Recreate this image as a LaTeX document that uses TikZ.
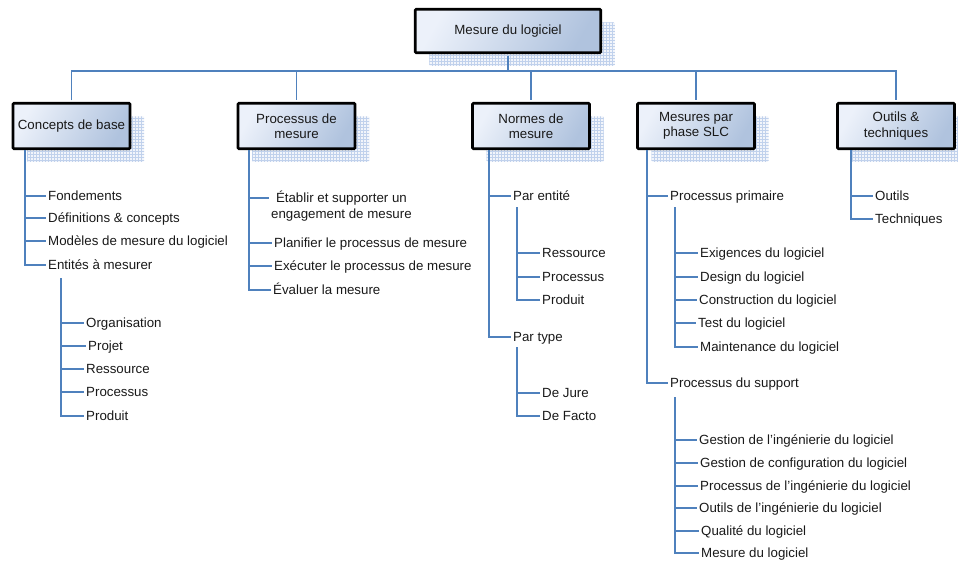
\documentclass[tikz,border=0pt]{standalone}
\usepackage{fontspec}
\setmainfont{Liberation Sans}
\usetikzlibrary{shadows,patterns,calc}
\definecolor{MesBlue}{RGB}{79,129,189}
\definecolor{MesLight}{RGB}{236,241,250}
\definecolor{MesDark}{RGB}{176,195,222}
\definecolor{MesHatch}{RGB}{165,190,228}
\definecolor{MesText}{RGB}{25,25,25}

\begin{document}
\begin{tikzpicture}[x=1pt, y=-1pt,
    font=\fontsize{13.3}{15.5}\selectfont, text=MesText,
    topic/.style={draw=black, line width=2.8pt, rounded corners=1pt, top color=MesLight, bottom color=MesDark, shading angle=60, minimum width=117pt, minimum height=45.5pt, align=center, inner sep=2pt,
      drop shadow={shadow xshift=14pt, shadow yshift=-13pt, opacity=1, fill=MesHatch!15, postaction={pattern=grid, pattern color=MesHatch!70}}},
    item/.style={anchor=west, inner sep=2pt, text height=10.5pt, text depth=2pt},
    link/.style={draw=MesBlue, line width=1.7pt}
  ]
    \useasboundingbox (0,0) rectangle (958,562);
    % boxes
    \node[topic, minimum width=185.5pt, minimum height=43.5pt] (mes) at (508,31) {Mesure du logiciel};
    \node[topic] (cb) at (71.5,126) {Concepts de base};
    \node[topic] (pm) at (296.5,126) {Processus de\\mesure};
    \node[topic] (nm) at (531,126) {Normes de\\mesure};
    \node[topic] (slc) at (696,126) {Mesures par\\phase SLC};
    \node[topic] (ot) at (896,126) {Outils \&\\techniques};
    \coordinate (bus) at (0,71);
    \draw[link, shorten <=1.4pt] (mes.south) -- (mes.south |- bus);
    \draw[link, shorten <=1.4pt, shorten >=1.4pt] (cb.north) -- (cb.north |- bus) -- (ot.north |- bus) -- (ot.north);
    \foreach \b in {pm,nm,slc}
      \draw[link, shorten >=1.4pt] (\b.north |- bus) -- (\b.north);

    % Concepts de base
    \coordinate (cbs) at (25,150);
    \node[item] (fond) at (46,196) {Fondements};
    \node[item] (defs) at (46,218) {Définitions \& concepts};
    \node[item] (modl) at (46,241) {Modèles de mesure du logiciel};
    \node[item] (enti) at (46,265) {Entités à mesurer};
    \foreach \n in {fond,defs,modl,enti}
      \draw[link] (cbs) |- (\n.west);
    \coordinate (ents) at (61,278);
    \node[item] (orga) at (84,323) {Organisation};
    \node[item] (proj) at (86,346) {Projet};
    \node[item] (res1) at (84,369) {Ressource};
    \node[item] (pro1) at (84,392) {Processus};
    \node[item] (prd1) at (84,416) {Produit};
    \foreach \n in {orga,proj,res1,pro1,prd1}
      \draw[link] (ents) |- (\n.west);

    % Processus de mesure
    \coordinate (pms) at (249,150);
    \node[anchor=west, align=center, inner sep=2pt] (etab) at (269,206) {Établir et supporter un\\engagement de mesure};
    \node[item] (plan) at (272,243) {Planifier le processus de mesure};
    \node[item] (exec) at (272,266) {Exécuter le processus de mesure};
    \node[item] (eval) at (271,290) {Évaluer la mesure};
    \draw[link] (pms) |- ($(etab.west)+(0,-8)$);
    \foreach \n in {plan,exec,eval}
      \draw[link] (pms) |- (\n.west);

    % Normes de mesure
    \coordinate (nms) at (489,150);
    \node[item] (pent) at (511,196) {Par entité};
    \node[item] (ptyp) at (511,337) {Par type};
    \foreach \n in {pent,ptyp}
      \draw[link] (nms) |- (\n.west);
    \coordinate (pes) at (517,207);
    \node[item] (res2) at (540,253) {Ressource};
    \node[item] (pro2) at (540,277) {Processus};
    \node[item] (prd2) at (540,300) {Produit};
    \foreach \n in {res2,pro2,prd2}
      \draw[link] (pes) |- (\n.west);
    \coordinate (pts) at (517,347);
    \node[item] (jure) at (540,393) {De Jure};
    \node[item] (fact) at (540,416) {De Facto};
    \foreach \n in {jure,fact}
      \draw[link] (pts) |- (\n.west);

    % Mesures par phase SLC
    \coordinate (slcs) at (647,150);
    \node[item] (prim) at (668,196) {Processus primaire};
    \node[item] (supp) at (668,383) {Processus du support};
    \foreach \n in {prim,supp}
      \draw[link] (slcs) |- (\n.west);
    \coordinate (prms) at (675,207);
    \node[item] (exig) at (698,253) {Exigences du logiciel};
    \node[item] (desi) at (698,277) {Design du logiciel};
    \node[item] (cons) at (697,300) {Construction du logiciel};
    \node[item] (test) at (696,323) {Test du logiciel};
    \node[item] (main) at (698,347) {Maintenance du logiciel};
    \foreach \n in {exig,desi,cons,test,main}
      \draw[link] (prms) |- (\n.west);
    \coordinate (sups) at (675,397);
    \node[item] (gest) at (697,440) {Gestion de l’ingénierie du logiciel};
    \node[item] (conf) at (698,463) {Gestion de configuration du logiciel};
    \node[item] (ping) at (698,486) {Processus de l’ingénierie du logiciel};
    \node[item] (outl) at (697,508) {Outils de l’ingénierie du logiciel};
    \node[item] (qual) at (699,531) {Qualité du logiciel};
    \node[item] (mesl) at (699,553) {Mesure du logiciel};
    \foreach \n in {gest,conf,ping,outl,qual,mesl}
      \draw[link] (sups) |- (\n.west);

    % Outils & techniques
    \coordinate (ots) at (851,150);
    \node[item] (outi) at (873,196) {Outils};
    \node[item] (tech) at (873,219) {Techniques};
    \foreach \n in {outi,tech}
      \draw[link] (ots) |- (\n.west);
  \end{tikzpicture}
\end{document}
